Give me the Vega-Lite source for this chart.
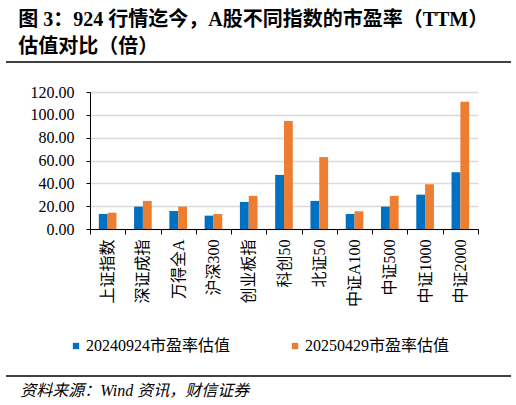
{
  "$schema": "https://vega.github.io/schema/vega-lite/v6.json",
  "background": "white",
  "padding": {"left": 5, "right": 5, "top": 10, "bottom": 0},
  "title": {
    "text": ["图 3：924 行情迄今，A股不同指数的市盈率（TTM）", "估值对比（倍）"],
    "anchor": "start",
    "frame": "bounds",
    "dx": 13,
    "offset": 4,
    "font": "Liberation Serif, Noto Sans CJK SC",
    "fontSize": 20,
    "fontWeight": "bold",
    "lineHeight": 27,
    "color": "black"
  },
  "spacing": 21,
  "resolve": {"legend": {"color": "independent"}},
  "vconcat": [
    {
      "width": 505,
      "height": 1,
      "data": {"values": [{"a": 0, "b": 1, "y": 0}]},
      "mark": {"type": "rule", "color": "black", "strokeWidth": 1.5},
      "encoding": {
        "x": {"field": "a", "type": "quantitative", "scale": {"domain": [0, 1], "range": [-84, 421]}, "axis": null},
        "x2": {"field": "b"},
        "y": {"field": "y", "type": "quantitative", "scale": {"domain": [0, 1]}, "axis": null}
      }
    },
    {
      "width": 388,
      "height": 137,
      "data": {
        "values": [
          {"index": "上证指数", "series": "20240924市盈率估值", "pe": 13.2},
          {"index": "上证指数", "series": "20250429市盈率估值", "pe": 14.3},
          {"index": "深证成指", "series": "20240924市盈率估值", "pe": 19.6},
          {"index": "深证成指", "series": "20250429市盈率估值", "pe": 24.6},
          {"index": "万得全A", "series": "20240924市盈率估值", "pe": 15.8},
          {"index": "万得全A", "series": "20250429市盈率估值", "pe": 19.6},
          {"index": "沪深300", "series": "20240924市盈率估值", "pe": 11.7},
          {"index": "沪深300", "series": "20250429市盈率估值", "pe": 13.2},
          {"index": "创业板指", "series": "20240924市盈率估值", "pe": 23.7},
          {"index": "创业板指", "series": "20250429市盈率估值", "pe": 29.0},
          {"index": "科创50", "series": "20240924市盈率估值", "pe": 47.4},
          {"index": "科创50", "series": "20250429市盈率估值", "pe": 94.5},
          {"index": "北证50", "series": "20240924市盈率估值", "pe": 24.6},
          {"index": "北证50", "series": "20250429市盈率估值", "pe": 63.0},
          {"index": "中证A100", "series": "20240924市盈率估值", "pe": 13.2},
          {"index": "中证A100", "series": "20250429市盈率估值", "pe": 15.5},
          {"index": "中证500", "series": "20240924市盈率估值", "pe": 19.6},
          {"index": "中证500", "series": "20250429市盈率估值", "pe": 29.0},
          {"index": "中证1000", "series": "20240924市盈率估值", "pe": 30.1},
          {"index": "中证1000", "series": "20250429市盈率估值", "pe": 39.2},
          {"index": "中证2000", "series": "20240924市盈率估值", "pe": 49.7},
          {"index": "中证2000", "series": "20250429市盈率估值", "pe": 111.5}
        ]
      },
      "mark": {"type": "bar"},
      "encoding": {
        "x": {
          "field": "index",
          "type": "nominal",
          "sort": null,
          "title": null,
          "scale": {"paddingInner": 0, "paddingOuter": 0},
          "axis": {
            "labelAngle": -90,
            "labelFont": "Liberation Serif, Noto Sans CJK SC",
            "labelFontSize": 16,
            "labelColor": "black",
            "labelPadding": 5,
            "tickBand": "extent",
            "tickSize": 5,
            "tickColor": "black",
            "domainColor": "black",
            "grid": false
          }
        },
        "xOffset": {
          "field": "series",
          "type": "nominal",
          "scale": {"paddingInner": 0, "paddingOuter": 1.12}
        },
        "y": {
          "field": "pe",
          "type": "quantitative",
          "title": null,
          "scale": {"domain": [0, 120], "nice": false},
          "axis": {
            "values": [0, 20, 40, 60, 80, 100, 120],
            "format": ".2f",
            "labelFont": "Liberation Serif",
            "labelFontSize": 16,
            "labelColor": "black",
            "labelPadding": 12,
            "tickSize": 4,
            "tickColor": "black",
            "domainColor": "black",
            "gridColor": "#D9D9D9",
            "gridWidth": 1.5
          }
        },
        "color": {
          "field": "series",
          "type": "nominal",
          "scale": {"range": ["#0070C0", "#ED7D31"]},
          "legend": {
            "title": null,
            "orient": "none",
            "direction": "horizontal",
            "legendX": -22,
            "legendY": 246,
            "symbolType": "square",
            "symbolSize": 40,
            "symbolStrokeWidth": 0,
            "labelFont": "Liberation Serif, Noto Sans CJK SC",
            "labelFontSize": 16,
            "labelColor": "black",
            "labelOffset": 2,
            "columnPadding": 56
          }
        }
      }
    },
    {
      "width": 505,
      "height": 1,
      "title": {
        "text": "资料来源：Wind 资讯，财信证券",
        "orient": "bottom",
        "anchor": "start",
        "frame": "bounds",
        "dx": 15,
        "offset": 6,
        "font": "Liberation Serif, Noto Sans CJK SC",
        "fontSize": 16,
        "fontStyle": "italic",
        "fontWeight": "normal",
        "color": "black"
      },
      "data": {"values": [{"a": 0, "b": 1, "y": 0}]},
      "mark": {"type": "rule", "color": "black", "strokeWidth": 1.5},
      "encoding": {
        "x": {"field": "a", "type": "quantitative", "scale": {"domain": [0, 1], "range": [-84, 421]}, "axis": null},
        "x2": {"field": "b"},
        "y": {"field": "y", "type": "quantitative", "scale": {"domain": [0, 1]}, "axis": null}
      }
    }
  ],
  "config": {
    "view": {"stroke": null}
  }
}
